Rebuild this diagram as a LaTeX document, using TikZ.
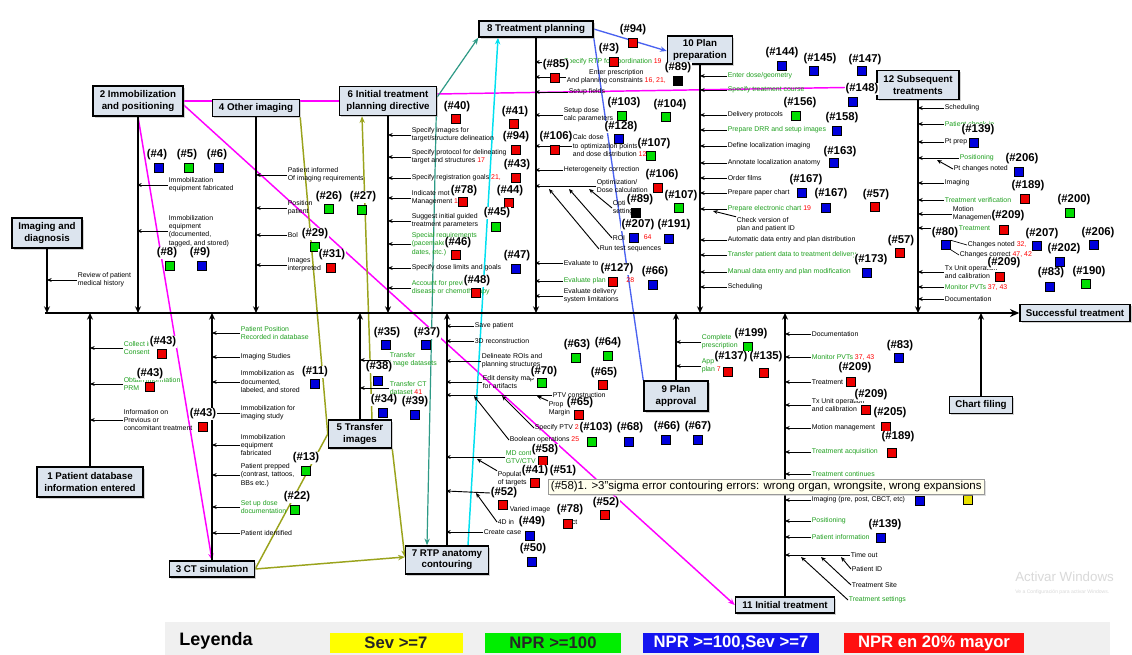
\documentclass[tikz,border=0pt]{standalone}
\usepackage{fontspec}
\setmainfont{Liberation Sans}
\usetikzlibrary{arrows.meta,shadows,calc}
\definecolor{bx}{HTML}{DCE4EE}
\definecolor{gt}{HTML}{1FA01F}
\definecolor{sr}{HTML}{EE0000}
\definecolor{sg}{HTML}{00DD00}
\definecolor{sb}{HTML}{0000DD}
\definecolor{sy}{HTML}{E8E000}
\definecolor{mg}{HTML}{FF00FF}
\definecolor{ol}{HTML}{9AA31C}
\definecolor{tl}{HTML}{2E9A86}
\definecolor{cy}{HTML}{00E0F0}
\definecolor{bl}{HTML}{4A62F0}
\definecolor{lgy}{HTML}{FFFF00}
\definecolor{lgg}{HTML}{00EE00}
\definecolor{lgb}{HTML}{1414F0}
\definecolor{lgr}{HTML}{FF1010}
\pgfdeclarelayer{bg}\pgfsetlayers{bg,main}
\tikzset{
 box/.style={draw=black,line width=1.1pt,fill=bx,align=center,
   font=\fontsize{7.3}{8.3}\selectfont\bfseries,inner sep=0pt,
   drop shadow={shadow xshift=1.2pt,shadow yshift=-1.2pt,fill=gray!70}},
 bw/.style 2 args={minimum width=#1*0.75pt,minimum height=#2*0.75pt},
 tx/.style={anchor=west,inner sep=0.4pt,align=left,font=\fontsize{5.2}{6.3}\selectfont},
 lab/.style={inner sep=0.3pt,fill=white,font=\fontsize{8.5}{9}\selectfont\bfseries},
 sq/.style={draw=black,line width=0.3pt,minimum size=6.8pt,inner sep=0pt},
 sarr/.style={line width=0.7pt,-{Stealth[length=3.5pt,width=3pt]}},
 br/.style={line width=1.5pt,-{Stealth[length=5pt,width=4.5pt]}},
 mgl/.style={draw=mg,line width=1.1pt},
 oll/.style={draw=ol,line width=1.1pt},
 tll/.style={draw=tl,line width=0.9pt},
 cyl/.style={draw=cy,line width=1.1pt},
 bll/.style={draw=bl,line width=1pt},
 hd/.style={-{Stealth[length=5pt,width=4pt]}},
 leg/.style={inner sep=0pt,minimum height=15pt,font=\fontsize{12.5}{13}\selectfont\bfseries},
 tip/.style={anchor=west,draw=gray!80,fill=yellow!7,inner xsep=2pt,inner ysep=1.5pt,
   font=\fontsize{8.6}{9.5}\selectfont,drop shadow={shadow xshift=1pt,shadow yshift=-1pt,fill=gray!50}}
}
\newcounter{k}
\newcommand\rn[1]{\textcolor{red}{#1}}
\newcommand\Sqr[3]{\stepcounter{k}\node[sq,fill=#3] (q\thek) at (#1,#2) {};}
\newcommand\Lab[3]{\stepcounter{k}\node[lab] (l\thek) at (#1,#2) {#3};}
\newcommand\Arw[5][black]{\stepcounter{k}\node[tx,text=#1] (t\thek) at (#3,#4) {#5};%
  \coordinate (c\thek) at (#2,#4);\draw[sarr] (t\thek.west) -- (c\thek);}
\begin{document}
\begin{tikzpicture}[x=0.75pt,y=-0.75pt]
\useasboundingbox (0,0) rectangle (1132,655);
% ---------- boxes ----------
\node[box,bw={70}{30}] (img) at (47,233) {Imaging and\\diagnosis};
\node[box,bw={90}{30}] (b2) at (138,101) {2 Immobilization\\and positioning};
\node[box,bw={87}{17}] (b4) at (256,108) {4 Other imaging};
\node[box,bw={97}{29}] (b6) at (388,101) {6 Initial treatment\\planning directive};
\node[box,bw={114}{16}] (b8) at (536,29) {8 Treatment planning};
\node[box,bw={65}{28}] (b10) at (700,50) {10 Plan\\preparation};
\node[box,bw={82}{29}] (b12) at (918,85) {12 Subsequent\\treatments};
\node[box,bw={110}{17}] (st) at (1075,313) {Successful treatment};
\node[box,bw={106}{30}] (b1) at (90,482) {1 Patient database\\information entered};
\node[box,bw={85}{16}] (b3) at (212,569) {3 CT simulation};
\node[box,bw={63}{28}] (b5) at (360,434) {5 Transfer\\images};
\node[box,bw={83}{28}] (b7) at (447,560) {7 RTP anatomy\\contouring};
\node[box,bw={64}{30}] (b9) at (676,396) {9 Plan\\approval};
\node[box,bw={99}{16}] (b11) at (785,605) {11 Initial treatment};
\node[box,bw={63}{17}] (cf) at (981,405) {Chart filing};
% ---------- coloured relations ----------
\begin{pgfonlayer}{bg}
\fill[white] (0,0) rectangle (1132,655);
\draw[mgl] (b2.east) -- (b6.west);
\draw[mgl] ($(b6.east)+(0,-7)$) -- ($(b12.west)+(0,2)$);
\draw[mgl,hd] ($(b2.east)+(0,4)$) -- (b11.west);
\draw[mgl,hd] (b2.south) -- (b3.north);
\draw[oll,hd] (b3.east) -- ($(b7.west)+(0,-3)$);
\draw[oll] (b3.east) -- (b5.west);
\draw[oll] (b4.south east) -- (b5.west);
\draw[oll,hd] ($(b5.north)+(12,0)$) -- ($(b6.south)+(-26,0)$);
\draw[oll,hd] (b5.south east) -- ($(b7.west)+(0,-3)$);
\draw[tll,hd] ($(b6.east)+(0,-4)$) -- (b8.south west);
\draw[tll,hd] ($(b6.south east)+(-1,0)$) -- ($(b7.north)+(-20,0)$);
\draw[cyl,hd] ($(b7.north)+(21,0)$) -- ($(b8.south)+(-38,0)$);
\draw[bll,hd] (b8.east) -- ($(b10.west)+(0,1)$);
\draw[bll] (b8.south east) -- (b9.north west);
\end{pgfonlayer}
% ---------- spine and bones ----------
\coordinate (s0) at (45,313);
\coordinate (sp) at (0,313);
\draw[line width=1.8pt,-{Stealth[length=7pt,width=6pt]}] (s0) -- (st.west);
\foreach \b in {img,b2,b4,b6,b8,b10,b12}{\draw[br] (\b.south) -- (\b.south |- sp);}
\foreach \b in {b1,b3,b5,b7,b9,b11,cf}{\draw[br] (\b.north) -- (\b.north |- sp);}
% ---------- Imaging and diagnosis ----------
\Arw{47}{77}{280}{Review of patient\\medical history}
% ---------- 2 ----------
\Arw{137}{168}{185}{Immobilization\\equipment fabricated}
\Arw{137}{168}{231}{Immobilization\\equipment\\(documented,\\tagged, and stored)}
% ---------- 4 ----------
\Arw{256}{287}{175}{Patient informed\\Of imaging requirements}
\Arw{256}{287}{208}{Position\\patient}
\Arw{256}{287}{235}{Bol}
\Arw{256}{287}{265}{Images\\interpreted}
% ---------- 6 ----------
\Arw{388}{411}{135}{Specify images for\\target/structure delineation}
\Arw{388}{411}{157}{Specify protocol for delineating\\target and structures \rn{17}}
\Arw{388}{411}{178}{Specify registration goals \rn{21,}}
\Arw{388}{411}{198}{Indicate motion\\Management \rn{18}}
\Arw{388}{411}{221}{Suggest initial guided\\treatment parameters}
\Arw[gt]{388}{411}{244}{Special requirements\\(pacemaker, gas,\\dates, etc.)}
\Arw{388}{411}{268}{Specify dose limits and goals}
\Arw[gt]{388}{411}{288}{Account for previous\\disease or chemotherapy}
% ---------- 8 ----------
\Arw[gt]{535}{563}{62}{Specify RTP for coordination \rn{19}}
\stepcounter{k}\node[tx,align=center] (ep) at (566,77) {Enter prescription\\And planning constraints \rn{16, 21,}};
\coordinate (epc) at (535,77);\draw[sarr] (ep.west) -- (epc);
\Arw{535}{568}{92}{Setup fields}
\Arw{535}{563}{115}{Setup dose\\calc parameters}
\Arw{535}{572}{146}{Calc dose\\to optimization points\\and dose distribution \rn{12,}}
\Arw{535}{563}{170}{Heterogeneity correction}
\Arw{535}{596}{186}{Optimization/\\Dose calculation}
\node[tx] (opt) at (612,208) {Optim\\settings};
\node[tx] (roi) at (612,238) {ROI};
\node[tx] (r64) at (643,237) {\rn{64}};
\node[tx] (run) at (599,249) {Run test sequences};
\coordinate (o1) at (549,189);\coordinate (o2) at (569,189);\coordinate (o3) at (589,189);
\draw[sarr] (run.west) -- (o1);
\draw[sarr] (roi.west) -- (o2);
\draw[sarr] (opt.west) -- (o3);
\Arw{535}{563}{263}{Evaluate to}
\Arw[gt]{535}{563}{281}{Evaluate plan \hspace{14pt}\rn{28}}
\Arw{535}{563}{296}{Evaluate delivery\\system limitations}
% ---------- 10 ----------
\Arw[gt]{700}{727}{76}{Enter dose/geometry}
\Arw[gt]{700}{727}{90}{Specify treatment course}
\Arw{700}{727}{115}{Delivery protocols}
\Arw[gt]{700}{727}{130}{Prepare DRR and setup images}
\Arw{700}{727}{146}{Define localization imaging}
\Arw{700}{727}{163}{Annotate localization anatomy}
\Arw{700}{727}{178}{Order films}
\Arw{700}{727}{193}{Prepare paper chart}
\Arw[gt]{700}{727}{209}{Prepare electronic chart \rn{19}}
\node[tx] (chk) at (736,225) {Check version of\\plan and patient ID};
\coordinate (chkc) at (713,211);\draw[sarr] (chk.north west) -- (chkc);
\Arw{700}{727}{240}{Automatic data entry and plan distribution}
\Arw[gt]{700}{727}{255}{Transfer patient data to treatment delivery}
\Arw[gt]{700}{727}{272}{Manual data entry and plan modification}
\Arw{700}{727}{287}{Scheduling}
% ---------- 12 ----------
\Arw{918}{944}{108}{Scheduling}
\Arw[gt]{918}{944}{124}{Patient check-in}
\Arw{918}{944}{142}{Pt prep}
\Arw[gt]{918}{959}{158}{Positioning}
\node[tx] (ptc) at (953,169) {Pt changes noted};
\coordinate (ptcc) at (937,160);\draw[sarr] (ptc.west) -- (ptcc);
\Arw{918}{944}{183}{Imaging}
\Arw[gt]{918}{944}{200}{Treatment verification}
\Arw{918}{952}{214}{Motion\\Management}
\Arw[gt]{918}{958}{228}{Treatment}
\node[tx] (cn) at (967,245) {Changes noted \rn{32,}};
\node[tx] (cc) at (959,255) {Changes correct \rn{47, 42}};
\Arw{918}{944}{272}{Tx Unit operation\\and calibration}
\Arw[gt]{918}{944}{287}{Monitor PVTs \rn{37, 43}}
\Arw{918}{944}{299}{Documentation}
% ---------- 1 ----------
\Arw[gt]{90}{123}{348}{Collect informed\\Consent}
\Arw[gt]{90}{123}{384}{Obtain information\\PRM}
\Arw{90}{123}{420}{Information on\\Previous or\\concomitant treatment}
% ---------- 3 ----------
\Arw[gt]{212}{240}{333}{Patient Position\\Recorded in database}
\Arw{212}{240}{357}{Imaging Studies}
\Arw{212}{240}{382}{Immobilization as\\documented,\\labeled, and stored}
\Arw{212}{240}{413}{Immobilization for\\imaging study}
\Arw{212}{240}{445}{Immobilization\\equipment\\fabricated}
\Arw{212}{240}{475}{Patient prepped\\(contrast, tattoos,\\BBs etc.)}
\Arw[gt]{212}{240}{507}{Set up dose\\documentation}
\Arw{212}{240}{533}{Patient identified}
% ---------- 5 ----------
\Arw[gt]{360}{389}{360}{Transfer\\image datasets}
\Arw[gt]{360}{389}{388}{Transfer CT\\dataset \rn{41}}
% ---------- 7 ----------
\Arw{446}{474}{326}{Save patient}
\Arw{446}{474}{341}{3D reconstruction}
\Arw{446}{481}{361}{Delineate ROIs and\\planning structures}
\Arw{446}{482}{382}{Edit density map\\for artifacts}
\Arw{446}{552}{395}{PTV construction}
\node[tx] (prop) at (548,409) {Prop\\Margin};
\node[tx] (sptv) at (534,428) {Specify PTV \rn{28}};
\node[tx] (bool) at (509,440) {Boolean operations \rn{25}};
\coordinate (p1) at (537,396);\coordinate (p2) at (502,396);\coordinate (p3) at (474,396);
\draw[sarr] (prop.north west) -- (p1);
\draw[sarr] (sptv.west) -- (p2);
\draw[sarr] (bool.west) -- (p3);
\Arw[gt]{446}{505}{457}{MD contours\\GTV/CTV}
\node[tx] (pop) at (497,479) {Populate\\of targets};
\coordinate (pc) at (477,459);\draw[sarr] (pop.north west) -- (pc);
\node[tx] (vim) at (509,510) {Varied image};
\node[tx] (fd) at (497,522) {4D in \hspace{36pt} rect};
\coordinate (fdc) at (476,493);\draw[sarr] (fd.west) -- (fdc);
\Arw{446}{483}{532}{Create case}
% ---------- 9 ----------
\Arw[gt]{676}{701}{342}{Complete\\prescription}
\Arw[gt]{676}{701}{366}{Approve\\plan \rn{7}}
% ---------- 11 ----------
\Arw{785}{811}{334}{Documentation}
\Arw[gt]{785}{811}{357}{Monitor PVTs \rn{37, 43}}
\Arw{785}{811}{382}{Treatment}
\Arw{785}{811}{405}{Tx Unit operation\\and calibration}
\Arw{785}{811}{428}{Motion management}
\Arw[gt]{785}{811}{452}{Treatment acquisition}
\Arw[gt]{785}{811}{474}{Treatment continues}
\Arw{785}{811}{500}{Imaging (pre, post, CBCT, etc)}
\Arw[gt]{785}{811}{521}{Positioning}
\Arw[gt]{785}{811}{537}{Patient information}
\Arw{785}{850}{555}{Time out}
\node[tx] (pid) at (851,569) {Patient ID};
\node[tx] (tsite) at (851,585) {Treatment Site};
\node[tx,text=gt] (tset) at (848,600) {Treatment settings};
\coordinate (d1) at (841,557);\coordinate (d2) at (821,557);\coordinate (d3) at (801,557);
\draw[sarr] (pid.west) -- (d1);
\draw[sarr] (tsite.west) -- (d2);
\draw[sarr] (tset.west) -- (d3);
% ---------- labels and squares ----------
\Lab{157}{155}{(\#4)}\Sqr{159}{168}{sb}
\Lab{187}{155}{(\#5)}\Sqr{189}{168}{sg}
\Lab{217}{155}{(\#6)}\Sqr{219}{168}{sb}
\Lab{167}{253}{(\#8)}\Sqr{170}{266}{sg}
\Lab{200}{253}{(\#9)}\Sqr{202}{266}{sb}
\Lab{329}{197}{(\#26)}\Sqr{329}{209}{sg}
\Lab{363}{197}{(\#27)}\Sqr{362}{210}{sg}
\Lab{315}{234}{(\#29)}\Sqr{315}{247}{sg}
\Lab{332}{255}{(\#31)}\Sqr{331}{268}{sr}
\Lab{457}{107}{(\#40)}\Sqr{456}{119}{sr}
\Lab{515}{112}{(\#41)}\Sqr{514}{124}{sr}
\Lab{516}{137}{(\#94)}\Sqr{516}{150}{sr}
\Lab{517}{165}{(\#43)}\Sqr{516}{178}{sr}
\Lab{464}{191}{(\#78)}\Sqr{463}{202}{sr}
\Lab{510}{191}{(\#44)}\Sqr{509}{203}{sr}
\Lab{497}{213}{(\#45)}\Sqr{496}{227}{sg}
\Lab{458}{243}{(\#46)}\Sqr{456}{255}{sr}
\Lab{517}{256}{(\#47)}\Sqr{516}{269}{sb}
\Lab{477}{281}{(\#48)}\Sqr{476}{293}{sr}
\Lab{556}{65}{(\#85)}\Sqr{555}{78}{sr}
\Lab{609}{49}{(\#3)}\Sqr{614}{62}{sr}
\Lab{633}{30}{(\#94)}\Sqr{633}{43}{sr}
\Lab{678}{68}{(\#89)}\Sqr{678}{81}{black}
\Lab{624}{103}{(\#103)}\Sqr{622}{116}{sg}
\Lab{670}{105}{(\#104)}\Sqr{666}{117}{sg}
\Lab{621}{127}{(\#128)}\Sqr{619}{139}{sb}
\Lab{556}{137}{(\#106)}\Sqr{555}{150}{sr}
\Lab{654}{144}{(\#107)}\Sqr{651}{156}{sg}
\Lab{662}{175}{(\#106)}\Sqr{658}{188}{sr}
\Lab{640}{200}{(\#89)}\Sqr{636}{213}{black}
\Lab{681}{196}{(\#107)}\Sqr{679}{208}{sg}
\Lab{638}{225}{(\#207)}\Sqr{634}{238}{sb}
\Lab{674}{225}{(\#191)}\Sqr{669}{239}{sb}
\Lab{617}{269}{(\#127)}\Sqr{613}{282}{sr}
\Lab{655}{272}{(\#66)}\Sqr{653}{285}{sb}
\Lab{782}{53}{(\#144)}\Sqr{782}{66}{sb}
\Lab{820}{59}{(\#145)}\Sqr{814}{71}{sb}
\Lab{865}{60}{(\#147)}\Sqr{862}{71}{sb}
\Lab{862}{89}{(\#148)}\Sqr{853}{102}{sb}
\Lab{800}{103}{(\#156)}\Sqr{796}{116}{sg}
\Lab{842}{118}{(\#158)}\Sqr{837}{131}{sb}
\Lab{840}{152}{(\#163)}\Sqr{834}{163}{sb}
\Lab{806}{180}{(\#167)}\Sqr{802}{193}{sb}
\Lab{831}{194}{(\#167)}\Sqr{826}{208}{sb}
\Lab{876}{195}{(\#57)}\Sqr{875}{207}{sr}
\Lab{871}{260}{(\#173)}\Sqr{867}{273}{sb}
\Lab{901}{241}{(\#57)}\Sqr{900}{253}{sr}
\Lab{978}{130}{(\#139)}\Sqr{974}{143}{sb}
\Lab{1022}{159}{(\#206)}\Sqr{1019}{172}{sb}
\Lab{1028}{186}{(\#189)}\Sqr{1025}{199}{sr}
\Lab{1074}{200}{(\#200)}\Sqr{1070}{213}{sg}
\Lab{1008}{216}{(\#209)}\Sqr{1004}{230}{sr}
\Lab{945}{233}{(\#80)}\Sqr{946}{245}{sb}
\draw[line width=0.5pt] (q\thek.north east) -- (cn.west);
\draw[line width=0.5pt] (q\thek.south east) -- (cc.west);
\Lab{1042}{234}{(\#207)}\Sqr{1037}{246}{sb}
\Lab{1098}{233}{(\#206)}\Sqr{1094}{245}{sb}
\Lab{1064}{249}{(\#202)}\Sqr{1060}{262}{sb}
\Lab{1004}{263}{(\#209)}\Sqr{1000}{277}{sr}
\Lab{1051}{273}{(\#83)}\Sqr{1050}{287}{sb}
\Lab{1089}{272}{(\#190)}\Sqr{1086}{284}{sg}
\Lab{163}{342}{(\#43)}\Sqr{162}{354}{sr}
\Lab{150}{374}{(\#43)}\Sqr{150}{387}{sr}
\Lab{203}{414}{(\#43)}\Sqr{203}{427}{sr}
\Lab{315}{372}{(\#11)}\Sqr{315}{384}{sb}
\Lab{306}{458}{(\#13)}\Sqr{306}{471}{sg}
\Lab{297}{497}{(\#22)}\Sqr{295}{510}{sg}
\Lab{387}{333}{(\#35)}\Sqr{386}{345}{sb}
\Lab{427}{333}{(\#37)}\Sqr{426}{345}{sb}
\Lab{379}{367}{(\#38)}\Sqr{378}{381}{sb}
\Lab{384}{400}{(\#34)}\Sqr{383}{413}{sb}
\Lab{415}{402}{(\#39)}\Sqr{415}{415}{sb}
\Lab{577}{345}{(\#63)}\Sqr{576}{358}{sg}
\Lab{608}{343}{(\#64)}\Sqr{608}{356}{sg}
\Lab{604}{373}{(\#65)}\Sqr{603}{385}{sr}
\Lab{544}{372}{(\#70)}\Sqr{542}{383}{sg}
\Lab{580}{403}{(\#65)}\Sqr{579}{415}{sr}
\Lab{596}{428}{(\#103)}\Sqr{592}{442}{sg}
\Lab{630}{428}{(\#68)}\Sqr{629}{442}{sb}
\Lab{667}{427}{(\#66)}\Sqr{666}{440}{sb}
\Lab{698}{427}{(\#67)}\Sqr{698}{440}{sb}
\Lab{545}{450}{(\#58)}\Sqr{543}{461}{sr}
\Lab{535}{471}{(\#41)}\Sqr{535}{483}{sr}
\Lab{563}{471}{(\#51)}
\Lab{504}{493}{(\#52)}\Sqr{503}{505}{sr}
\coordinate (c52) at (446,491);\draw[sarr] (l\the\numexpr\value{k}-1\relax.west) -- (c52);
\Lab{570}{510}{(\#78)}\Sqr{568}{524}{sr}
\Lab{606}{503}{(\#52)}\Sqr{605}{515}{sr}
\Lab{532}{522}{(\#49)}\Sqr{530}{536}{sb}
\Lab{533}{549}{(\#50)}\Sqr{532}{562}{sb}
\Lab{751}{334}{(\#199)}\Sqr{748}{347}{sg}
\Lab{731}{357}{(\#137)}\Sqr{728}{372}{sr}
\Lab{766}{357}{(\#135)}\Sqr{764}{373}{sr}
\Lab{900}{346}{(\#83)}\Sqr{899}{358}{sb}
\Lab{855}{368}{(\#209)}\Sqr{851}{382}{sr}
\Lab{871}{395}{(\#209)}\Sqr{866}{410}{sr}
\Lab{890}{413}{(\#205)}\Sqr{886}{427}{sr}
\Lab{898}{437}{(\#189)}\Sqr{892}{453}{sr}
\Sqr{920}{501}{sb}\Sqr{968}{500}{sy}
\Lab{885}{525}{(\#139)}\Sqr{881}{538}{sb}
% ---------- tooltip ----------
\node[tip] (tip) at (548,487) {(\#58)1. >3"sigma error contouring errors: wrong organ, wrongsite, wrong expansions};
% ---------- watermark ----------
\node[anchor=west,inner sep=0pt,text=gray!30,font=\fontsize{10}{11}\selectfont] (wm1) at (1015,577) {Activar Windows};
\node[anchor=west,inner sep=0pt,text=gray!30,font=\fontsize{3.8}{4.5}\selectfont] (wm2) at (1015,592) {Ve a Configuración para activar Windows.};
% ---------- legend ----------
\node[anchor=north west,fill=gray!12,inner sep=0pt,minimum width=945*0.75pt,minimum height=33*0.75pt] (lgbg) at (165,622) {};
\node[font=\fontsize{13.5}{14}\selectfont\bfseries] (leyenda) at (216,641) {Leyenda};
\node[leg,fill=lgy,text=black!85,minimum width=133*0.75pt] (ly) at (396,643) {Sev >=7};
\node[leg,fill=lgg,text=black!85,minimum width=136*0.75pt] (lg) at (553,643) {NPR >=100};
\node[leg,fill=lgb,text=white,minimum width=176*0.75pt] (lb) at (731,643) {NPR >=100,Sev >=7};
\node[leg,fill=lgr,text=white,minimum width=180*0.75pt] (lr) at (934,643) {NPR en 20\% mayor};
\end{tikzpicture}
\end{document}
